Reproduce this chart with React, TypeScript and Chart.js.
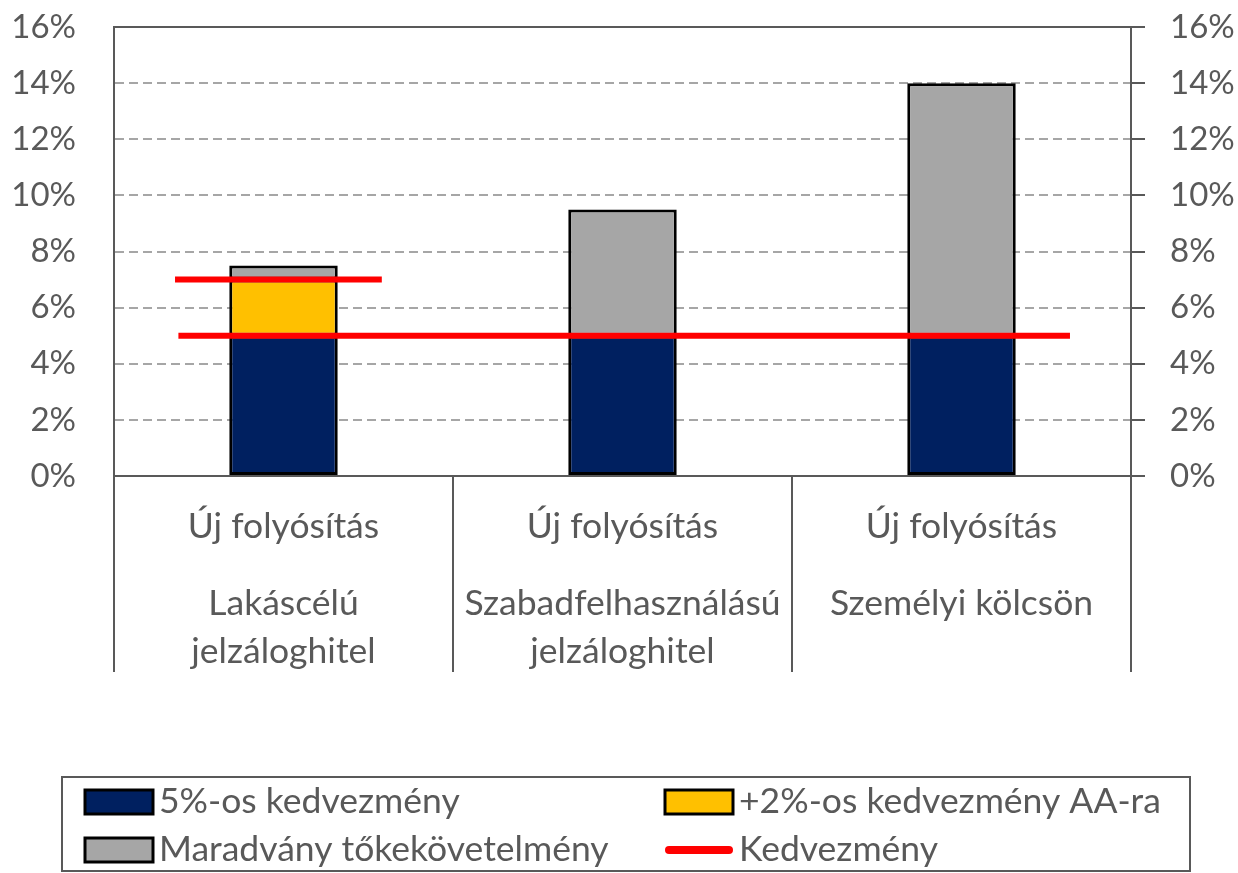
import React, { useEffect, useRef } from "react";
import { Chart, registerables } from "chart.js";

Chart.register(...registerables);

// ---- data ----
const groupLabel = "Új folyósítás";
const categoryLines: string[][] = [
  ["Lakáscélú", "jelzáloghitel"],
  ["Szabadfelhasználású", "jelzáloghitel"],
  ["Személyi kölcsön"],
];
const categories = categoryLines.map((l) => l.join(" "));
const base5Discount = [5, 5, 5];
const aaExtraDiscount = [2, null, null];
const residualCapital = [0.5, 4.5, 9];
// "Kedvezmény" line segments (x in category units, y in %)
const discountMainLine = [
  { x: 0.19, y: 5 },
  { x: 2.82, y: 5 },
];
const discountAALine = [
  { x: 0.18, y: 7 },
  { x: 0.79, y: 7 },
];
const yMin = 0;
const yMax = 16;
const yStep = 2;

const seriesNames = [
  "5%-os kedvezmény",
  "+2%-os kedvezmény AA-ra",
  "Maradvány tőkekövetelmény",
  "Kedvezmény",
];

const FONT = "Lato, 'Open Sans', sans-serif";
const TEXT = "#595959";
const LABEL_SIZE = 35.5;

export default function App() {
  const ref = useRef<HTMLCanvasElement | null>(null);

  useEffect(() => {
    if (!ref.current) return;

    const labelsPlugin = {
      id: "catLabels",
      afterDraw(chart: any) {
        const ctx = chart.ctx;
        const xs = chart.scales.x;
        ctx.save();
        ctx.fillStyle = TEXT;
        ctx.font = `${LABEL_SIZE}px ${FONT}`;
        ctx.textAlign = "center";
        ctx.textBaseline = "middle";
        categoryLines.forEach((lines, i) => {
          const cx = xs.getPixelForValue(i);
          ctx.fillText(groupLabel, cx, 527);
          lines.forEach((ln, j) => ctx.fillText(ln, cx, 604 + j * 48));
        });
        ctx.restore();
      },
    };

    const legendPlugin = {
      id: "boxLegend",
      afterDraw(chart: any) {
        const ctx = chart.ctx;
        const ds = chart.data.datasets;
        ctx.save();
        ctx.strokeStyle = TEXT;
        ctx.lineWidth = 2;
        ctx.strokeRect(62, 777, 1128, 94);
        ctx.font = `${LABEL_SIZE}px ${FONT}`;
        ctx.textBaseline = "middle";
        ctx.textAlign = "left";
        const items = [
          { i: 0, bx: 85, y: 802 },
          { i: 1, bx: 665, y: 802 },
          { i: 2, bx: 85, y: 850 },
          { i: 3, bx: 665, y: 850 },
        ];
        items.forEach(({ i, bx, y }) => {
          const d = ds[i];
          if (d.type === "line") {
            ctx.strokeStyle = d.borderColor;
            ctx.lineWidth = 8;
            ctx.lineCap = "round";
            ctx.beginPath();
            ctx.moveTo(bx + 4, y);
            ctx.lineTo(bx + 64, y);
            ctx.stroke();
          } else {
            ctx.fillStyle = d.backgroundColor;
            ctx.fillRect(bx, y - 12, 68, 24);
            ctx.strokeStyle = "#000";
            ctx.lineWidth = 3;
            ctx.strokeRect(bx, y - 12, 68, 24);
          }
          ctx.fillStyle = TEXT;
          ctx.fillText(seriesNames[i], bx + 74, y);
        });
        ctx.restore();
      },
    };

    const barCommon = {
      borderColor: "#000",
      borderWidth: 3,
      borderSkipped: false,
      grouped: false,
      order: 1,
    };

    const lineCommon = {
      type: "line",
      xAxisID: "xl",
      yAxisID: "y2",
      borderColor: "#ff0000",
      borderWidth: 6,
      pointRadius: 0,
      order: 0,
    };

    const chart = new Chart(ref.current, {
      type: "bar",
      data: {
        labels: categories,
        datasets: [
          { ...barCommon, label: seriesNames[0], data: base5Discount, backgroundColor: "#002060" },
          { ...barCommon, label: seriesNames[1], data: aaExtraDiscount, backgroundColor: "#ffc000" },
          { ...barCommon, label: seriesNames[2], data: residualCapital, backgroundColor: "#a6a6a6" },
          { ...lineCommon, label: seriesNames[3], data: discountMainLine } as any,
          { ...lineCommon, label: seriesNames[3] + " AA", data: discountAALine } as any,
        ] as any,
      },
      options: {
        responsive: false,
        animation: false,
        devicePixelRatio: 1,
        layout: { padding: { top: 27, left: 0, right: 0, bottom: 0 } },
        datasets: { bar: { categoryPercentage: 1, barPercentage: 0.32 } },
        plugins: { legend: { display: false }, tooltip: { enabled: false } },
        scales: {
          x: {
            type: "category",
            stacked: true,
            offset: true,
            ticks: { display: false },
            grid: {
              display: true,
              offset: true,
              drawOnChartArea: false,
              drawTicks: true,
              tickLength: 196,
              color: TEXT,
              lineWidth: 2,
              tickColor: TEXT,
              tickWidth: 2,
            },
            border: { display: true, color: TEXT, width: 2 },
            afterFit: (s: any) => {
              s.height = 397;
            },
          },
          xl: {
            type: "linear",
            display: false,
            offset: false,
            grid: { offset: false },
            min: 0,
            max: 3,
          },
          y: {
            position: "left",
            stacked: true,
            min: yMin,
            max: yMax,
            ticks: {
              stepSize: yStep,
              callback: (v: any) => v + "%",
              color: TEXT,
              font: { family: FONT, size: 33 },
              padding: 38,
            },
            grid: {
              drawTicks: false,
              lineWidth: 2,
              color: (c: any) =>
                c.tick && c.tick.value === yMin
                  ? "rgba(0,0,0,0)"
                  : c.tick && c.tick.value === yMax
                  ? TEXT
                  : "#a6a6a6",
            },
            border: {
              display: true,
              color: TEXT,
              width: 2,
              dash: (c: any) => (c.tick && c.tick.value === yMax ? [] : [9, 5]),
            },
            afterFit: (s: any) => {
              s.width = 114;
              s.paddingTop = 0;
              s.paddingBottom = 0;
            },
          },
          y2: {
            position: "right",
            stacked: false,
            min: yMin,
            max: yMax,
            ticks: {
              stepSize: yStep,
              callback: (v: any) => v + "%",
              color: TEXT,
              font: { family: FONT, size: 33 },
              padding: 25,
            },
            grid: {
              drawOnChartArea: false,
              drawTicks: true,
              tickLength: 14,
              color: TEXT,
              tickColor: TEXT,
              tickWidth: 2,
              lineWidth: 2,
            },
            border: { display: true, color: TEXT, width: 2 },
            afterFit: (s: any) => {
              s.width = 107;
              s.paddingTop = 0;
              s.paddingBottom = 0;
            },
          },
        },
      } as any,
      plugins: [labelsPlugin, legendPlugin],
    });

    return () => chart.destroy();
  }, []);

  return (
    <div
      style={{
        position: "fixed",
        left: 0,
        top: 0,
        width: 1238,
        height: 873,
        background: "#fff",
      }}
    >
      <canvas ref={ref} width={1238} height={873} />
    </div>
  );
}
